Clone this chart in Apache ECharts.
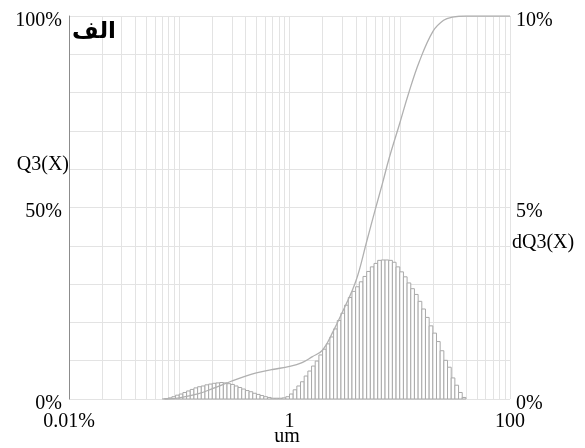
<!DOCTYPE html>
<html>
<head>
<meta charset="utf-8">
<script src="https://cdn.jsdelivr.net/npm/echarts@6/dist/echarts.min.js"></script>
<style>html,body{margin:0;padding:0;background:#fff;}#chart{width:585px;height:448px;}</style>
</head>
<body>
<div id="chart"></div>
<script>
// Bin edges (µm) of the dQ3 histogram
const binEdges = [
  0.07356, 0.07943, 0.08577, 0.09261, 0.1, 0.1080, 0.1166, 0.1259, 0.1359, 0.1468,
  0.1585, 0.1711, 0.1848, 0.1995, 0.2154, 0.2326, 0.2512, 0.2712, 0.2929, 0.3162,
  0.3415, 0.3687, 0.3981, 0.4299, 0.4642, 0.5012, 0.5412, 0.5843, 0.6310, 0.6813,
  0.7356, 0.7943, 0.8577, 0.9261, 1.0, 1.080, 1.166, 1.259, 1.359, 1.468,
  1.585, 1.711, 1.848, 1.995, 2.154, 2.326, 2.512, 2.712, 2.929, 3.162,
  3.415, 3.687, 3.981, 4.299, 4.642, 5.012, 5.412, 5.843, 6.310, 6.813,
  7.356, 7.943, 8.577, 9.261, 10.0, 10.80, 11.66, 12.59, 13.59, 14.68,
  15.85, 17.11, 18.48, 19.95, 21.54, 23.26, 25.12, 27.12, 29.29, 31.62,
  34.15, 36.87, 39.81
];
// dQ3(X) values (%) per bin, right axis
const dq3 = [
  0.01, 0.03, 0.06, 0.10, 0.13, 0.17, 0.21, 0.25, 0.29, 0.32,
  0.34, 0.37, 0.39, 0.41, 0.42, 0.43, 0.42, 0.40, 0.38, 0.34,
  0.30, 0.26, 0.22, 0.19, 0.15, 0.12, 0.09, 0.06, 0.04, 0.02,
  0.02, 0.02, 0.03, 0.06, 0.13, 0.24, 0.34, 0.45, 0.60, 0.73,
  0.86, 0.99, 1.15, 1.30, 1.44, 1.62, 1.83, 2.05, 2.24, 2.45,
  2.65, 2.81, 2.93, 3.06, 3.20, 3.33, 3.45, 3.54, 3.62, 3.63,
  3.63, 3.62, 3.57, 3.45, 3.32, 3.19, 3.03, 2.88, 2.73, 2.55,
  2.35, 2.13, 1.91, 1.72, 1.50, 1.26, 1.01, 0.83, 0.55, 0.36,
  0.17, 0.04
];
// Cumulative Q3(X) curve (µm, %), left axis
const q3Size  = [0.07, 0.08, 0.1, 0.15, 0.2, 0.3, 0.4, 0.5, 0.7, 1.0, 1.3, 1.6, 2.0, 2.5, 3.0, 4.0, 5.0, 6.0, 7.0, 8.0, 10, 12, 15, 20, 25, 30, 40, 100];
const q3Value = [0, 0.05, 0.3, 1.4, 2.7, 4.7, 6.0, 6.8, 7.7, 8.5, 9.5, 11.0, 12.8, 17.8, 22.5, 30.8, 41, 49.5, 56.5, 62.8, 72, 79.7, 88, 96, 98.9, 99.7, 100, 100];
// Tick labels and axis titles
const xTickLabels = {'-2': '0.01%', '0': '1', '2': '100'};
const leftTickLabels = {0: '0%', 50: '50%', 100: '100%'};
const rightTickLabels = {0: '0%', 5: '5%', 10: '10%'};
const xAxisTitle = 'um';
const leftAxisTitle = 'Q3(X)';
const rightAxisTitle = 'dQ3(X)';
const panelTag = 'الف';
const minorGridSizes = [0.02,0.03,0.04,0.05,0.06,0.07,0.08,0.09,0.2,0.3,0.4,0.5,0.6,0.7,0.8,0.9,2,3,4,5,6,7,8,9,20,30,40,50,60,70,80,90];

const SERIF = '"Liberation Serif", "Times New Roman", serif';
const GRID_C = '#e3e3e3';
const LINE_C = '#b0b0b0';

const histData = dq3.map((v, i) => [binEdges[i], binEdges[i + 1], v]);
const curveData = q3Size.map((s, i) => [s, q3Value[i]]);

const chart = echarts.init(document.getElementById('chart'), null, {renderer: 'canvas'});
chart.setOption({
  animation: false,
  backgroundColor: '#fff',
  grid: {left: 69, right: 75, top: 16, bottom: 49, containLabel: false, outerBoundsMode: 'none'},
  xAxis: {
    type: 'log', logBase: 10, min: 0.01, max: 100,
    axisLine: {show: false}, axisTick: {show: false},
    axisLabel: {
      margin: 13, fontFamily: SERIF, fontSize: 20, color: '#000',
      formatter: v => { const e = Math.round(Math.log10(v)); return xTickLabels[String(e)] || ''; }
    },
    splitLine: {show: true, lineStyle: {color: GRID_C, width: 1}}
  },
  yAxis: [
    {
      type: 'value', min: 0, max: 100, interval: 10, position: 'left',
      axisLine: {show: true, lineStyle: {color: '#8c8c8c', width: 1}},
      axisTick: {show: false},
      axisLabel: {
        margin: 7, fontFamily: SERIF, fontSize: 20, color: '#000',
        verticalAlign: 'top', lineHeight: 9,
        formatter: v => leftTickLabels[v] || ''
      },
      splitLine: {show: true, lineStyle: {color: GRID_C, width: 1}}
    },
    {
      type: 'value', min: 0, max: 10, interval: 1, position: 'right',
      axisLine: {show: false}, axisTick: {show: false},
      axisLabel: {
        margin: 6, fontFamily: SERIF, fontSize: 20, color: '#000',
        verticalAlign: 'top', lineHeight: 9,
        formatter: v => rightTickLabels[v] || ''
      },
      splitLine: {show: false}
    }
  ],
  series: [
    {
      name: 'minorGrid', type: 'line', data: [], z: 1, silent: true,
      markLine: {
        z: 1, silent: true, symbol: 'none', animation: false,
        label: {show: false},
        lineStyle: {color: GRID_C, type: 'solid', width: 1},
        emphasis: {disabled: true},
        data: minorGridSizes.map(v => ({xAxis: v}))
      }
    },
    {
      name: 'dQ3(X)', type: 'custom', xAxisIndex: 0, yAxisIndex: 1, z: 2,
      data: histData,
      encode: {x: [0, 1], y: 2},
      renderItem: function (params, api) {
        const p0 = api.coord([api.value(0), 0]);
        const p1 = api.coord([api.value(1), api.value(2)]);
        return {
          type: 'rect',
          shape: {x: p0[0], y: p1[1], width: p1[0] - p0[0], height: p0[1] - p1[1]},
          style: {fill: '#ffffff', stroke: '#a9a9a9', lineWidth: 1}
        };
      }
    },
    {
      name: 'Q3(X)', type: 'line', xAxisIndex: 0, yAxisIndex: 0, z: 3,
      data: curveData, smooth: 0.4, showSymbol: false, symbol: 'none',
      lineStyle: {color: LINE_C, width: 1.3}
    }
  ],
  graphic: [
    {type: 'text', left: 72, top: 21, z: 10,
     style: {text: panelTag, font: 'bold 23px "DejaVu Sans", sans-serif', fill: '#000'}},
    {type: 'text', x: 69, y: 165, z: 10,
     style: {text: leftAxisTitle, font: '20px ' + SERIF, fill: '#000', textAlign: 'right', textVerticalAlign: 'middle'}},
    {type: 'text', x: 512, y: 243, z: 10,
     style: {text: rightAxisTitle, font: '20px ' + SERIF, fill: '#000', textAlign: 'left', textVerticalAlign: 'middle'}},
    {type: 'text', x: 287, y: 437, z: 10,
     style: {text: xAxisTitle, font: '20px ' + SERIF, fill: '#000', textAlign: 'center', textVerticalAlign: 'middle'}}
  ]
});
</script>
</body>
</html>
